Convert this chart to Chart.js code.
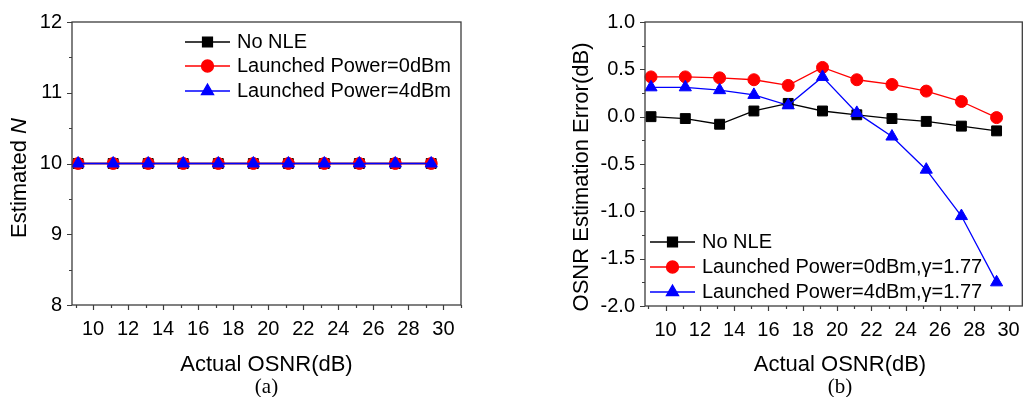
<!DOCTYPE html>
<html><head><meta charset="utf-8">
<script src="https://cdn.jsdelivr.net/npm/chart.js@4"></script>
<style>
html,body{margin:0;padding:0;background:#fff;overflow:hidden;width:1032px;height:397px}
#a{position:absolute;left:0;top:0}
#b{position:absolute;left:520px;top:0}
</style></head>
<body>
<canvas id="a" width="520" height="397"></canvas>
<canvas id="b" width="512" height="397"></canvas>
<script>
// ---- data ----
const osnr = [9.15, 11.15, 13.15, 15.15, 17.15, 19.15, 21.15, 23.2, 25.2, 27.25, 29.3];
const estN_noNLE = [10, 10, 10, 10, 10, 10, 10, 10, 10, 10, 10];
const estN_p0    = [10, 10, 10, 10, 10, 10, 10, 10, 10, 10, 10];
const estN_p4    = [10, 10, 10, 10, 10, 10, 10, 10, 10, 10, 10];
const err_noNLE = [0.00, -0.02, -0.08, 0.06, 0.14, 0.06, 0.02, -0.02, -0.05, -0.10, -0.15];
const err_p0    = [0.42, 0.42, 0.41, 0.39, 0.33, 0.52, 0.39, 0.34, 0.27, 0.16, -0.01];
const err_p4    = [0.31, 0.31, 0.28, 0.23, 0.12, 0.42, 0.04, -0.21, -0.56, -1.05, -1.75];
const xTickValues = [10, 12, 14, 16, 18, 20, 22, 24, 26, 28, 30];
const yTicksA = [8, 9, 10, 11, 12];
const yTicksB = [-2.0, -1.5, -1.0, -0.5, 0.0, 0.5, 1.0];
const labelsA = ['No NLE', 'Launched Power=0dBm', 'Launched Power=4dBm'];
const labelsB = ['No NLE', 'Launched Power=0dBm,\u03B3=1.77', 'Launched Power=4dBm,\u03B3=1.77'];
const xTitle = 'Actual OSNR(dB)';
const yTitleA = ['Estimated ', 'N'];
const yTitleB = 'OSNR Estimation Error(dB)';
const captions = ['(a)', '(b)'];

// ---- styles ----
const colors = ['#000000', '#ff0000', '#0000ff'];
const shapes = ['rect', 'circle', 'triangle'];
const radii = [7, 6, 7];
const SANS = '"Liberation Sans", Arial, sans-serif';
const SERIF = '"Liberation Serif", "Times New Roman", serif';
const FRAME = '#3c3c3c';

function datasets(labels, series) {
  return series.map((vals, i) => ({
    label: labels[i],
    data: osnr.map((x, j) => ({x: x, y: vals[j]})),
    borderColor: colors[i], backgroundColor: colors[i],
    pointStyle: shapes[i], pointRadius: radii[i], pointHoverRadius: radii[i],
    pointBorderWidth: 1, borderWidth: 1.3, order: 3 - i, clip: false, tension: 0
  }));
}

const decor = {
  id: 'decor',
  afterDatasetsDraw(chart, args, o) {
    const {ctx, chartArea: a, scales: {x, y}} = chart;
    ctx.save();
    ctx.strokeStyle = FRAME; ctx.lineWidth = 1.3;
    ctx.strokeRect(a.left, a.top, a.right - a.left, a.bottom - a.top);
    ctx.lineWidth = 1.2;
    ctx.beginPath();
    for (let v = Math.ceil(x.min); v <= x.max + 1e-9; v += 1) {
      const px = Math.round(x.getPixelForValue(v)) + 0.5;
      const len = (v % 2 === 0) ? 5 : 3;
      ctx.moveTo(px, a.bottom); ctx.lineTo(px, a.bottom + len);
    }
    const n = Math.round((y.max - y.min) / o.yMinor);
    for (let k = 0; k <= n; k++) {
      const v = y.min + k * o.yMinor;
      const py = Math.round(y.getPixelForValue(v)) + 0.5;
      const major = Math.abs(v / o.yMajor - Math.round(v / o.yMajor)) < 1e-6;
      const len = major ? 5 : 3;
      ctx.moveTo(a.left, py); ctx.lineTo(a.left - len, py);
    }
    ctx.stroke();

    // legend
    ctx.font = '20px ' + SANS;
    ctx.textBaseline = 'middle';
    ctx.textAlign = 'left';
    chart.data.datasets.forEach((ds, i) => {
      const ry = o.legend.rows[i];
      ctx.strokeStyle = ds.borderColor; ctx.fillStyle = ds.backgroundColor;
      ctx.lineWidth = 1.3;
      ctx.beginPath(); ctx.moveTo(o.legend.x0, ry); ctx.lineTo(o.legend.x1, ry); ctx.stroke();
      Chart.helpers.drawPoint(ctx, {pointStyle: ds.pointStyle, radius: ds.pointRadius, borderWidth: 1, rotation: 0}, (o.legend.x0 + o.legend.x1) / 2, ry);
      ctx.fillStyle = '#000';
      ctx.fillText(ds.label, o.legend.tx, ry);
    });

    // x title
    ctx.fillStyle = '#000';
    ctx.textAlign = 'center'; ctx.textBaseline = 'alphabetic';
    ctx.font = '22px ' + SANS;
    ctx.fillText(xTitle, o.cx, o.xTitleY);
    // caption
    ctx.font = '21px ' + SERIF;
    ctx.fillText(o.caption, o.cx, o.capY);
    // y title
    ctx.translate(o.yTitleX, o.yTitleCY);
    ctx.rotate(-Math.PI / 2);
    ctx.textBaseline = 'middle'; ctx.textAlign = 'left';
    const parts = o.yTitle;
    const fonts = parts.map((p, i) => (o.italicLast && i === parts.length - 1 ? 'italic ' : '') + '22px ' + SANS);
    let w = 0;
    parts.forEach((p, i) => { ctx.font = fonts[i]; w += ctx.measureText(p).width; });
    let xx = -w / 2;
    parts.forEach((p, i) => { ctx.font = fonts[i]; ctx.fillText(p, xx, 0); xx += ctx.measureText(p).width; });
    ctx.restore();
  }
};

function makeChart(id, cfg) {
  return new Chart(document.getElementById(id), {
    type: 'line',
    data: {datasets: datasets(cfg.labels, cfg.series)},
    options: {
      responsive: false, animation: false, devicePixelRatio: 1,
      layout: {padding: {left: 0, right: cfg.padRight, top: 20, bottom: 0}},
      plugins: {legend: {display: false}, tooltip: {enabled: false}, decor: cfg.decor},
      scales: {
        x: {
          type: 'linear', min: 8.8, max: cfg.xMax,
          grid: {display: false, drawTicks: false}, border: {display: false},
          afterBuildTicks: s => { s.ticks = xTickValues.map(v => ({value: v})); },
          afterFit: s => { s.height = cfg.xHeight; },
          ticks: {color: '#000', padding: 12, font: {family: SANS, size: 20}, maxRotation: 0, autoSkip: false,
                  callback: v => String(v)}
        },
        y: {
          min: cfg.yTicks[0], max: cfg.yTicks[cfg.yTicks.length - 1],
          grid: {display: false, drawTicks: false}, border: {display: false},
          afterBuildTicks: s => { s.ticks = cfg.yTicks.map(v => ({value: v})); },
          afterFit: s => { s.width = cfg.yWidth; },
          ticks: {color: '#000', padding: 10, font: {family: SANS, size: 20}, autoSkip: false,
                  callback: cfg.yFmt}
        }
      }
    },
    plugins: [decor]
  });
}

makeChart('a', {
  labels: labelsA, series: [estN_noNLE, estN_p0, estN_p4],
  xMax: 31.0, padRight: 59, xHeight: 92, yWidth: 72, yTicks: yTicksA,
  yFmt: v => String(v),
  decor: {yMinor: 0.5, yMajor: 1, legend: {x0: 185, x1: 230, tx: 237, rows: [42, 66, 91]},
          cx: 266.5, xTitleY: 371, capY: 393, caption: captions[0],
          yTitle: yTitleA, italicLast: true, yTitleX: 20, yTitleCY: 178}
});

makeChart('b', {
  labels: labelsB, series: [err_noNLE, err_p0, err_p4],
  xMax: 30.8, padRight: 1, xHeight: 91, yWidth: 125, yTicks: yTicksB,
  yFmt: v => v.toFixed(1),
  decor: {yMinor: 0.25, yMajor: 0.5, legend: {x0: 130, x1: 175, tx: 182, rows: [242, 267, 292]},
          cx: 320, xTitleY: 371, capY: 393, caption: captions[1],
          yTitle: [yTitleB], italicLast: false, yTitleX: 62, yTitleCY: 177}
});
</script>
</body></html>
